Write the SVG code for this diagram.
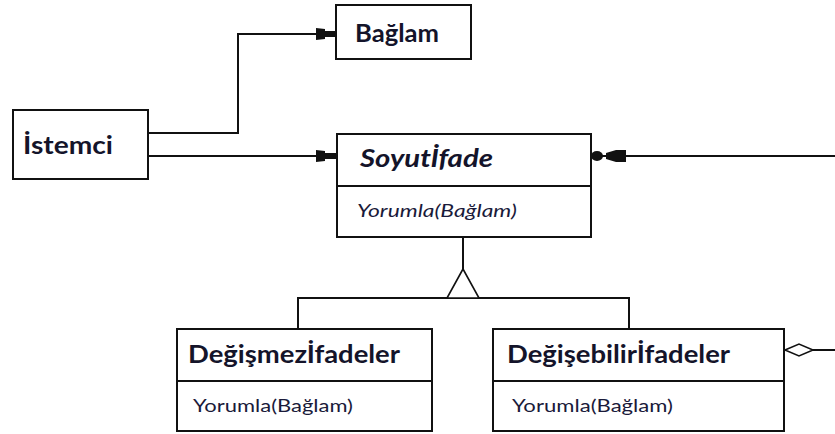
<svg xmlns="http://www.w3.org/2000/svg" width="835" height="434" viewBox="0 0 835 434">
  <style>
    .box { fill: #ffffff; stroke: #111111; stroke-width: 2; }
    .div { stroke: #111111; stroke-width: 2; }
    .wire { fill: none; stroke: #111111; stroke-width: 2; }
    .solid { fill: #111111; stroke: none; }
    .open { fill: #ffffff; stroke: #111111; stroke-width: 1.6; }
    .title { font-family: Lato, "Liberation Sans", sans-serif; font-weight: bold; font-size: 25.5px; fill: #14142a; }
    .title-i { font-family: Lato, "Liberation Sans", sans-serif; font-weight: bold; font-style: italic; font-size: 25.5px; fill: #14142a; }
    .op { font-family: Lato, "Liberation Sans", sans-serif; font-size: 17px; fill: #1a1a3a; }
    .op-i { font-family: Lato, "Liberation Sans", sans-serif; font-style: italic; font-size: 17px; fill: #1a1a3a; }
  </style>

  <g id="connectors">
    <!-- client to context -->
    <polyline class="wire" points="148,133 238,133 238,34 320,34"/>
    <polygon class="solid" points="316,28 325,29 325,31 336,31 336,37 325,37 325,39 316,40"/>
    <!-- client to abstract expression -->
    <line class="wire" x1="148" y1="156" x2="320" y2="156"/>
    <polygon class="solid" points="316,150 325,151 325,153 337,153 337,159 325,159 325,161 316,162"/>
    <!-- composite back-reference to abstract expression -->
    <line class="wire" x1="835" y1="156" x2="620" y2="156"/>
    <ellipse class="solid" cx="597" cy="156" rx="6" ry="5"/>
    <line class="wire" x1="600" y1="156" x2="608" y2="156"/>
    <polygon class="solid" points="606,153 616,150 626,150 626,162 616,162 606,159"/>
    <!-- generalization -->
    <line class="wire" x1="463" y1="237" x2="463" y2="269"/>
    <polyline class="wire" points="298,329 298,298 629,298 629,329"/>
    <polygon class="open" points="463,269 447,298 479,298"/>
    <!-- aggregation from composite -->
    <line class="wire" x1="813" y1="350" x2="835" y2="350"/>
    <polygon class="open" points="785,350 799,344 813,350 799,356"/>
  </g>

  <g id="baglam">
    <rect class="box" x="336" y="5" width="135" height="54"/>
    <text class="title" x="355" y="42" textLength="84" lengthAdjust="spacingAndGlyphs">Bağlam</text>
  </g>

  <g id="istemci">
    <rect class="box" x="13" y="110" width="135" height="69"/>
    <text class="title" x="23" y="154" textLength="90" lengthAdjust="spacingAndGlyphs">İstemci</text>
  </g>

  <g id="soyutifade">
    <rect class="box" x="337" y="134" width="254" height="103"/>
    <line class="div" x1="337" y1="186" x2="591" y2="186"/>
    <text class="title-i" x="360" y="167" textLength="133" lengthAdjust="spacingAndGlyphs">Soyutİfade</text>
    <text class="op-i" x="357" y="217" textLength="160" lengthAdjust="spacingAndGlyphs">Yorumla(Bağlam)</text>
  </g>

  <g id="degismezifadeler">
    <rect class="box" x="177" y="329" width="255" height="102"/>
    <line class="div" x1="177" y1="381" x2="432" y2="381"/>
    <text class="title" x="188" y="363" textLength="212" lengthAdjust="spacingAndGlyphs">Değişmezİfadeler</text>
    <text class="op" x="193" y="412" textLength="160" lengthAdjust="spacingAndGlyphs">Yorumla(Bağlam)</text>
  </g>

  <g id="degisebilirifadeler">
    <rect class="box" x="493" y="329" width="291" height="102"/>
    <line class="div" x1="493" y1="381" x2="784" y2="381"/>
    <text class="title" x="507" y="363" textLength="223" lengthAdjust="spacingAndGlyphs">Değişebilirİfadeler</text>
    <text class="op" x="512" y="412" textLength="161" lengthAdjust="spacingAndGlyphs">Yorumla(Bağlam)</text>
  </g>
</svg>
